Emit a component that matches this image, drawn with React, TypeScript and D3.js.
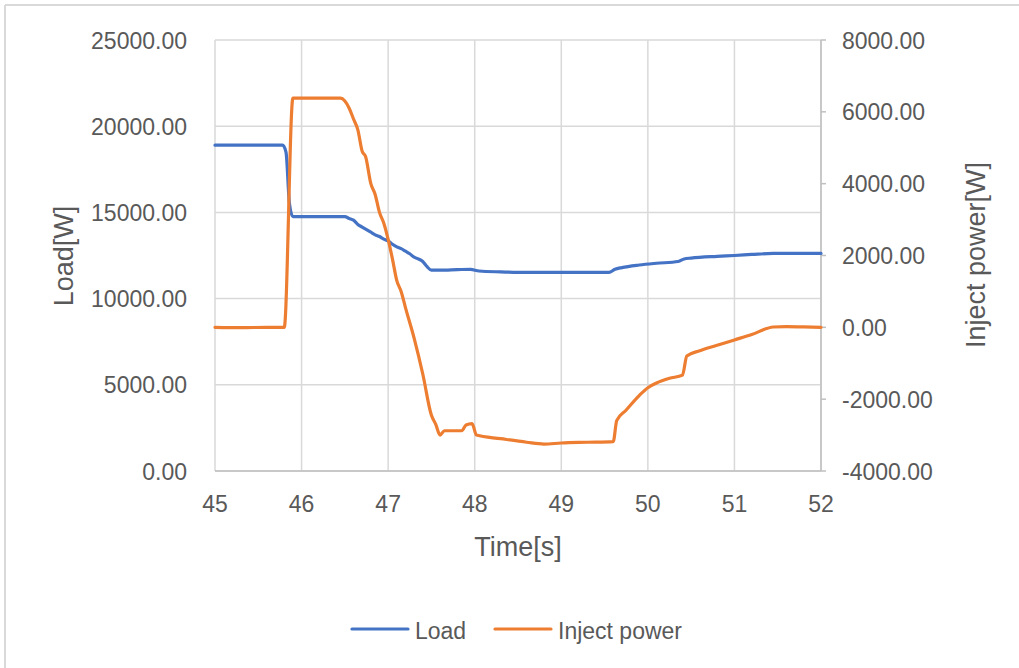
import React from "react";
import * as d3 from "d3";

// Load series: time [s] and load [W]
const loadTime = [45.0, 45.78, 45.82, 45.86, 45.9, 46.0, 46.5, 46.55, 46.6, 46.65, 46.7, 46.75, 46.8, 46.85, 46.9, 46.95, 47.0, 47.05, 47.1, 47.15, 47.2, 47.25, 47.3, 47.35, 47.4, 47.45, 47.5, 47.6, 47.8, 47.95, 48.05, 48.3, 48.6, 49.0, 49.55, 49.62, 49.7, 49.9, 50.1, 50.35, 50.42, 50.5, 50.8, 51.0, 51.2, 51.45, 51.7, 52.0];
const loadValues = [18900, 18900, 18500, 15500, 14750, 14750, 14750, 14650, 14550, 14300, 14150, 14000, 13850, 13700, 13600, 13450, 13350, 13150, 13000, 12900, 12750, 12600, 12400, 12300, 12150, 11850, 11650, 11650, 11680, 11700, 11600, 11550, 11520, 11520, 11520, 11700, 11800, 11950, 12050, 12150, 12300, 12350, 12450, 12500, 12560, 12620, 12620, 12620];

// Inject power series: time [s] and power [W]
const injectTime = [45.0, 45.3, 45.6, 45.8, 45.9, 46.0, 46.3, 46.45, 46.5, 46.55, 46.6, 46.65, 46.7, 46.74, 46.8, 46.85, 46.9, 46.95, 47.0, 47.05, 47.1, 47.15, 47.2, 47.3, 47.4, 47.5, 47.55, 47.6, 47.65, 47.85, 47.9, 47.97, 48.02, 48.3, 48.6, 48.8, 49.0, 49.3, 49.6, 49.64, 49.75, 49.9, 50.0, 50.1, 50.25, 50.4, 50.45, 50.6, 50.8, 51.0, 51.2, 51.45, 51.6, 51.8, 52.0];
const injectValues = [0, -10, 0, 0, 6380, 6380, 6380, 6380, 6300, 6100, 5800, 5500, 4900, 4750, 4000, 3700, 3200, 2900, 2450, 1900, 1300, 1000, 550, -300, -1300, -2450, -2700, -3000, -2880, -2880, -2720, -2680, -3000, -3100, -3200, -3250, -3220, -3200, -3180, -2600, -2300, -1900, -1680, -1550, -1420, -1330, -800, -650, -500, -350, -200, 10, 20, 10, 0];

const xTicks = [45, 46, 47, 48, 49, 50, 51, 52];
const leftTicks = [0, 5000, 10000, 15000, 20000, 25000];
const rightTicks = [-4000, -2000, 0, 2000, 4000, 6000, 8000];

const seriesNames = ["Load", "Inject power"];
const seriesColors = ["#4472C4", "#ED7D31"];

const W = 1019;
const H = 668;
const plot = { left: 215, right: 821, top: 40, bottom: 471 };

const FONT = "'Liberation Sans', Arial, sans-serif";
const TEXT = "#595959";
const GRID = "#D9D9D9";

// two decimals with a plain hyphen for negatives
const fmt = d3.formatLocale({ decimal: ".", thousands: "", grouping: [3], currency: ["", ""], minus: "-" }).format(".2f");

export default function App() {
  const x = d3.scaleLinear().domain([45, 52]).range([plot.left, plot.right]);
  const yL = d3.scaleLinear().domain([0, 25000]).range([plot.bottom, plot.top]);
  const yR = d3.scaleLinear().domain([-4000, 8000]).range([plot.bottom, plot.top]);

  const loadPts: [number, number][] = loadTime.map((t, i) => [t, loadValues[i]]);
  const injPts: [number, number][] = injectTime.map((t, i) => [t, injectValues[i]]);

  const loadLine = d3
    .line<[number, number]>()
    .x((d) => x(d[0]))
    .y((d) => yL(d[1]))
    .curve(d3.curveMonotoneX);
  const injLine = d3
    .line<[number, number]>()
    .x((d) => x(d[0]))
    .y((d) => yR(d[1]))
    .curve(d3.curveMonotoneX);

  return (
    <svg
      width={W}
      height={H}
      style={{ position: "absolute", left: 0, top: 0, background: "#fff" }}
      fontFamily={FONT}
    >
      <rect x={0} y={0} width={W} height={H} fill="#fff" />
      {/* frame */}
      <line x1={5} y1={5} x2={W} y2={5} stroke="#D9D9D9" strokeWidth={2} />
      <line x1={5} y1={5} x2={5} y2={H} stroke="#D9D9D9" strokeWidth={2} />

      {/* horizontal gridlines */}
      {leftTicks.map((v) => (
        <line key={"hg" + v} x1={plot.left} x2={plot.right} y1={yL(v)} y2={yL(v)} stroke={GRID} strokeWidth={1.5} />
      ))}
      {/* vertical gridlines */}
      {xTicks.map((v) => (
        <line key={"vg" + v} x1={x(v)} x2={x(v)} y1={plot.top} y2={plot.bottom} stroke={GRID} strokeWidth={1.5} />
      ))}

      {/* axis lines */}
      <line x1={plot.left} x2={plot.right} y1={plot.bottom} y2={plot.bottom} stroke="#BFBFBF" strokeWidth={1.5} />
      <line x1={plot.right} x2={plot.right} y1={plot.top} y2={plot.bottom} stroke="#BFBFBF" strokeWidth={1.5} />
      {rightTicks.map((v) => (
        <line key={"rt" + v} x1={plot.right} x2={plot.right + 5} y1={yR(v)} y2={yR(v)} stroke="#BFBFBF" strokeWidth={1.5} />
      ))}

      {/* left tick labels */}
      {leftTicks.map((v) => (
        <text key={"lt" + v} x={187} y={yL(v) + 8.5} textAnchor="end" fontSize={23} fill={TEXT}>
          {fmt(v)}
        </text>
      ))}
      {/* right tick labels */}
      {rightTicks.map((v) => (
        <text key={"rl" + v} x={842} y={yR(v) + 8.5} textAnchor="start" fontSize={23} fill={TEXT}>
          {fmt(v)}
        </text>
      ))}
      {/* x tick labels */}
      {xTicks.map((v) => (
        <text key={"xl" + v} x={x(v)} y={512} textAnchor="middle" fontSize={23} fill={TEXT}>
          {v}
        </text>
      ))}

      {/* axis titles */}
      <text x={(plot.left + plot.right) / 2} y={556} textAnchor="middle" fontSize={27} fill={TEXT}>
        Time[s]
      </text>
      <text transform={`translate(73,${256}) rotate(-90)`} textAnchor="middle" fontSize={27} fill={TEXT}>
        Load[W]
      </text>
      <text transform={`translate(985,${255}) rotate(-90)`} textAnchor="middle" fontSize={27} fill={TEXT}>
        Inject power[W]
      </text>

      {/* series */}
      <path d={loadLine(loadPts) || ""} fill="none" stroke={seriesColors[0]} strokeWidth={3.2} strokeLinejoin="round" strokeLinecap="round" />
      <path d={injLine(injPts) || ""} fill="none" stroke={seriesColors[1]} strokeWidth={3.2} strokeLinejoin="round" strokeLinecap="round" />

      {/* legend */}
      <line x1={352} x2={408} y1={629} y2={629} stroke={seriesColors[0]} strokeWidth={3.2} strokeLinecap="round" />
      <text x={415} y={639} fontSize={23} fill={TEXT}>
        {seriesNames[0]}
      </text>
      <line x1={495} x2={551} y1={629} y2={629} stroke={seriesColors[1]} strokeWidth={3.2} strokeLinecap="round" />
      <text x={558} y={639} fontSize={23} fill={TEXT}>
        {seriesNames[1]}
      </text>
    </svg>
  );
}
